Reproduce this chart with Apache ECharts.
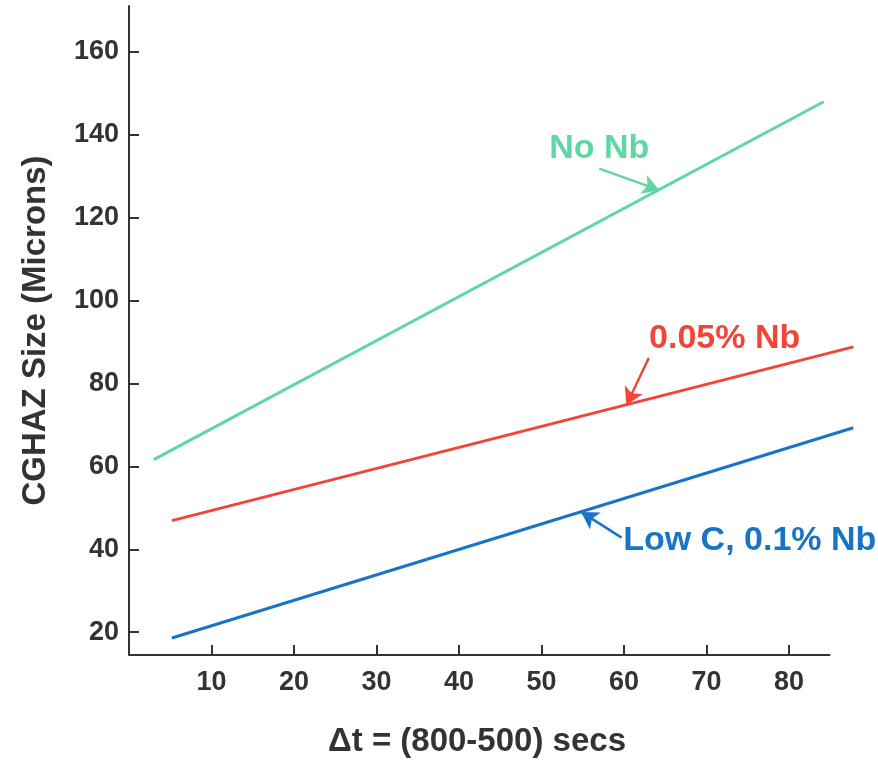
<!DOCTYPE html>
<html>
<head>
<meta charset="utf-8">
<script src="https://cdn.jsdelivr.net/npm/echarts@6/dist/echarts.min.js"></script>
<style>html,body{margin:0;padding:0;background:#fff}#c{width:878px;height:763px}</style>
</head>
<body>
<div id="c"></div>
<script>
// Data
const xTicks = [10, 20, 30, 40, 50, 60, 70, 80];
const yTicks = [20, 40, 60, 80, 100, 120, 140, 160];
const seriesNames = ['No Nb', '0.05% Nb', 'Low C, 0.1% Nb'];
const noNb = [[3.0, 61.6], [84.2, 147.9]];
const nb005 = [[5.2, 46.9], [87.8, 88.8]];
const lowC = [[5.2, 18.6], [87.8, 69.3]];
// annotation arrows: [tail, head], and label anchors
const arrowNoNb = [[57.0, 131.8], [64.3, 126.6]];
const arrowNb005 = [[63.0, 86.1], [60.3, 74.8]];
const arrowLowC = [[59.7, 42.8], [54.8, 49.0]];
const labelNoNb = [57.0, 136.6];
const labelNb005 = [72.2, 90.9];
const labelLowC = [59.9, 42.1];
// drawn extent of the x axis line
const xAxisExtent = [0, 85];
const yMin = 14.5, yMax = 171;

const colors = ['#5fd6a4', '#f0463a', '#1a74c6'];
const FONT = '"Liberation Sans", Arial, sans-serif';
const AX = '#333333';

function mkSeries(name, data, color, arrow, labelPos, align) {
  return {
    name: name, type: 'line', data: data, clip: false,
    showSymbol: false, symbol: 'none',
    lineStyle: { color: color, width: 3 },
    itemStyle: { color: color },
    markLine: {
      silent: true, symbol: ['none', 'arrow'], symbolSize: [15, 17],
      label: { show: false },
      lineStyle: { color: color, width: 2.5, type: 'solid' },
      data: [[{ coord: arrow[0] }, { coord: arrow[1] }]]
    },
    markPoint: {
      silent: true, symbol: 'circle', symbolSize: 0,
      data: [{ coord: labelPos }],
      label: {
        show: true, formatter: name, color: color,
        fontFamily: FONT, fontWeight: 'bold', fontSize: 34,
        align: align, verticalAlign: 'middle', position: 'inside'
      }
    }
  };
}

const chart = echarts.init(document.getElementById('c'), null, { renderer: 'canvas' });
chart.setOption({
  backgroundColor: '#ffffff',
  animation: false,
  grid: { left: 129, right: 23, top: 6, bottom: 105, containLabel: false },
  xAxis: {
    type: 'value', min: 0, max: 88,
    name: 'Δt = (800-500) secs', nameLocation: 'middle', nameGap: 70,
    nameTextStyle: { fontFamily: FONT, fontWeight: 'bold', fontSize: 33, color: AX, padding: [0, 0, 0, -30] },
    axisLine: { show: false },
    axisTick: { show: true, inside: true, length: 10, lineStyle: { color: AX, width: 2 }, customValues: xTicks },
    axisLabel: { fontFamily: FONT, fontWeight: 'bold', fontSize: 27, color: AX, margin: 14, customValues: xTicks },
    splitLine: { show: false }
  },
  yAxis: {
    type: 'value', min: yMin, max: yMax,
    name: 'CGHAZ Size (Microns)', nameLocation: 'middle', nameGap: 77,
    nameTextStyle: { fontFamily: FONT, fontWeight: 'bold', fontSize: 33, color: AX },
    axisLine: { show: true, onZero: false, lineStyle: { color: AX, width: 2 } },
    axisTick: { show: true, inside: true, length: 10, lineStyle: { color: AX, width: 2 }, customValues: yTicks },
    axisLabel: { fontFamily: FONT, fontWeight: 'bold', fontSize: 27, color: AX, margin: 10, customValues: yTicks },
    splitLine: { show: false }
  },
  series: [
    mkSeries(seriesNames[0], noNb, colors[0], arrowNoNb, labelNoNb, 'center'),
    mkSeries(seriesNames[1], nb005, colors[1], arrowNb005, labelNb005, 'center'),
    mkSeries(seriesNames[2], lowC, colors[2], arrowLowC, labelLowC, 'left'),
    {
      name: 'xAxisLine', type: 'line', data: [], silent: true,
      markLine: {
        silent: true, symbol: ['none', 'none'], label: { show: false },
        lineStyle: { color: AX, width: 2, type: 'solid' },
        data: [[{ coord: [xAxisExtent[0], yMin] }, { coord: [xAxisExtent[1], yMin] }]]
      }
    }
  ]
});
</script>
</body>
</html>
